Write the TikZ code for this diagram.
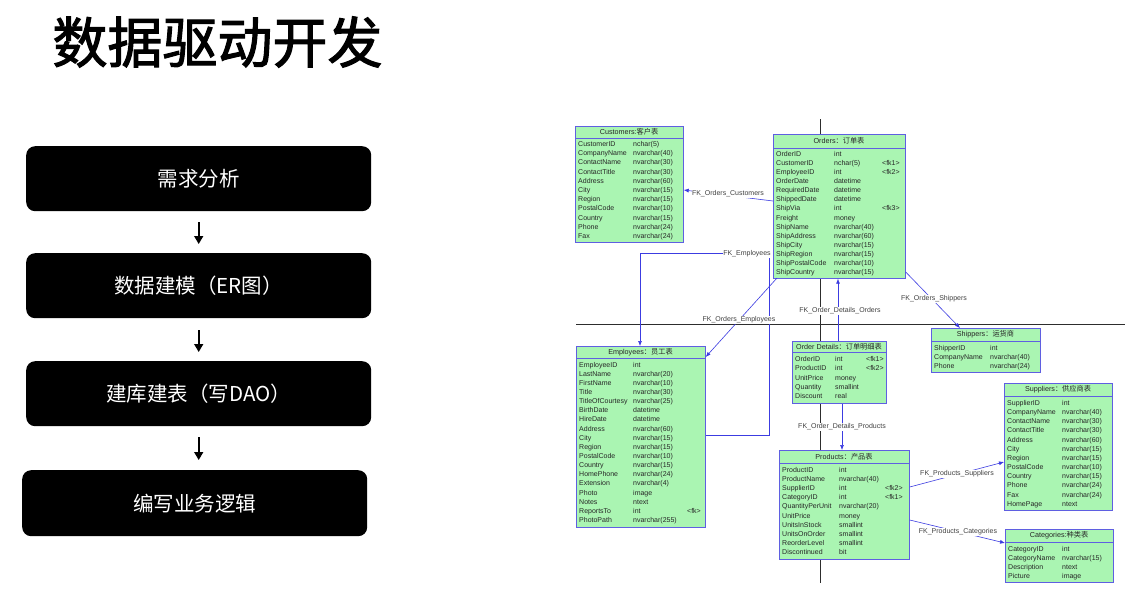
\documentclass[tikz,border=0pt]{standalone}
\usepackage{fontspec}
\setmainfont{Liberation Sans}
\newfontfamily\cjk{Noto Sans CJK SC}
\newfontfamily\cjktitle{Noto Sans CJK SC}[FakeBold=2]
\usetikzlibrary{arrows.meta}
\definecolor{tabfill}{RGB}{170,245,178}
\definecolor{tabline}{RGB}{95,95,225}
\definecolor{fkblue}{RGB}{60,60,225}
\definecolor{pageline}{RGB}{45,45,45}
\tikzset{
  stepbox/.style={fill=black, rounded corners=9pt, minimum width=345pt, minimum height=65pt,
    anchor=north west, inner sep=0pt, text=white, font=\cjk\fontsize{20.5}{24}\selectfont},
  flowarrow/.style={draw=black, line width=1.6pt, -{Triangle[length=8pt,width=9pt]}},
  ertab/.style={draw=tabline, fill=tabfill, line width=0.7pt, anchor=north west, inner sep=0pt},
  hdrtxt/.style={font=\fontsize{7.2}{8}\selectfont, inner sep=0pt, text=black!85},
  rowtxt/.style={font=\fontsize{7}{8}\selectfont, inner sep=0pt, anchor=base west, text=black!85},
  fk/.style={draw=fkblue, line width=0.6pt},
  fkarrow/.style={fk, -{Latex[length=5pt,width=4pt]}},
  fklabel/.style={font=\fontsize{7}{8}\selectfont, fill=white, inner sep=0.5pt, text=black!75},
  page/.style={draw=pageline, line width=0.7pt},
}
% #1 name, #2 left, #3 top, #4 right, #5 bottom, #6 header line y, #7 header text
\newcommand\ertable[7]{%
  \node[ertab, minimum width={#4-#2}, minimum height={#5-#3}] (#1) at (#2,#3) {};
  \draw[tabline, line width=0.7pt] (#1.west |- 0,#6) -- (#1.east |- 0,#6);
  \node[hdrtxt] (#1-hdr) at ({(#2+#4)/2}, {(#3+#6)/2}) {#7};
}
% #1 name, #2 x name, #3 x type, #4 x key, #5 first row y, #6 pitch, #7 rows
\newcommand\errows[7]{%
  \foreach \a/\b/\c [count=\i] in {#7} {
    \pgfmathsetmacro\yy{#5+(\i-1)*#6+2.5}
    \node[rowtxt] (#1-n\i) at (#2,\yy) {\a};
    \node[rowtxt] (#1-t\i) at (#3,\yy) {\b};
    \node[rowtxt] (#1-k\i) at (#4,\yy) {\c};
  }
}
\begin{document}
\begin{tikzpicture}[x=1pt, y=-1pt]
\useasboundingbox (0,0) rectangle (1132,594);
\fill[white] (0,0) rectangle (1132,594);

% title
\node[font=\cjktitle\fontsize{55}{60}\selectfont, inner sep=0pt] (title) at (217.5,42) {数据驱动开发};

% flow
\node[stepbox] (s1) at (26,146) {需求分析};
\node[stepbox] (s2) at (26,253) {数据建模（ER图）};
\node[stepbox] (s3) at (26,361) {建库建表（写DAO）};
\node[stepbox, minimum height=66pt] (s4) at (22,470) {编写业务逻辑};
\draw[flowarrow] ([yshift=-11pt]s1.south) -- ([yshift=9pt]s2.north);
\draw[flowarrow] ([yshift=-12pt]s2.south) -- ([yshift=9pt]s3.north);
\draw[flowarrow] ([yshift=-11pt]s3.south) -- ([yshift=10pt]s3.south |- s4.north);

% page lines
\coordinate (ph1) at (576,324);
\coordinate (ph2) at (1125,324);
\coordinate (pv1) at (820,119);
\coordinate (pv2) at (820,583);
\draw[page] (ph1) -- (ph2);
\draw[page] (pv1) -- (pv2);

% tables
\ertable{cust}{575}{126}{683}{242}{138}{Customers:{\cjk 客户表}}
\errows{cust}{578}{633}{670}{144}{9.2}{CustomerID/nchar(5)/{}, CompanyName/nvarchar(40)/{}, ContactName/nvarchar(30)/{}, ContactTitle/nvarchar(30)/{}, Address/nvarchar(60)/{}, City/nvarchar(15)/{}, Region/nvarchar(15)/{}, PostalCode/nvarchar(10)/{}, Country/nvarchar(15)/{}, Phone/nvarchar(24)/{}, Fax/nvarchar(24)/{}}

\ertable{orders}{773}{134}{905}{278}{148}{Orders{\cjk ：订单表}}
\errows{orders}{776}{834}{882}{153.5}{9.15}{OrderID/int/{}, CustomerID/nchar(5)/<fk1>, EmployeeID/int/<fk2>, OrderDate/datetime/{}, RequiredDate/datetime/{}, ShippedDate/datetime/{}, ShipVia/int/<fk3>, Freight/money/{}, ShipName/nvarchar(40)/{}, ShipAddress/nvarchar(60)/{}, ShipCity/nvarchar(15)/{}, ShipRegion/nvarchar(15)/{}, ShipPostalCode/nvarchar(10)/{}, ShipCountry/nvarchar(15)/{}}

\ertable{emp}{576}{346}{705}{527}{358}{Employees{\cjk ：员工表}}
\errows{emp}{579}{633}{687}{364.5}{9.15}{EmployeeID/int/{}, LastName/nvarchar(20)/{}, FirstName/nvarchar(10)/{}, Title/nvarchar(30)/{}, TitleOfCourtesy/nvarchar(25)/{}, BirthDate/datetime/{}, HireDate/datetime/{}, Address/nvarchar(60)/{}, City/nvarchar(15)/{}, Region/nvarchar(15)/{}, PostalCode/nvarchar(10)/{}, Country/nvarchar(15)/{}, HomePhone/nvarchar(24)/{}, Extension/nvarchar(4)/{}, Photo/image/{}, Notes/ntext/{}, ReportsTo/int/<fk>, PhotoPath/nvarchar(255)/{}}

\ertable{od}{792}{341}{886}{403}{352}{Order Details{\cjk ：订单明细表}}
\errows{od}{795}{835}{866}{359}{9.3}{OrderID/int/<fk1>, ProductID/int/<fk2>, UnitPrice/money/{}, Quantity/smallint/{}, Discount/real/{}}

\ertable{ship}{931}{328}{1040}{372}{341}{Shippers{\cjk ：运货商}}
\errows{ship}{934}{990}{1030}{348}{9.2}{ShipperID/int/{}, CompanyName/nvarchar(40)/{}, Phone/nvarchar(24)/{}}

\ertable{sup}{1004}{383}{1112}{510}{396}{Suppliers{\cjk ：供应商表}}
\errows{sup}{1007}{1062}{1100}{403}{9.15}{SupplierID/int/{}, CompanyName/nvarchar(40)/{}, ContactName/nvarchar(30)/{}, ContactTitle/nvarchar(30)/{}, Address/nvarchar(60)/{}, City/nvarchar(15)/{}, Region/nvarchar(15)/{}, PostalCode/nvarchar(10)/{}, Country/nvarchar(15)/{}, Phone/nvarchar(24)/{}, Fax/nvarchar(24)/{}, HomePage/ntext/{}}

\ertable{prod}{779}{450}{909}{559}{463}{Products{\cjk ：产品表}}
\errows{prod}{782}{839}{885}{469.5}{9.2}{ProductID/int/{}, ProductName/nvarchar(40)/{}, SupplierID/int/<fk2>, CategoryID/int/<fk1>, QuantityPerUnit/nvarchar(20)/{}, UnitPrice/money/{}, UnitsInStock/smallint/{}, UnitsOnOrder/smallint/{}, ReorderLevel/smallint/{}, Discontinued/bit/{}}

\ertable{cat}{1005}{529}{1113}{582}{542}{Categories:{\cjk 种类表}}
\errows{cat}{1008}{1062}{1100}{548.5}{9.2}{CategoryID/int/{}, CategoryName/nvarchar(15)/{}, Description/ntext/{}, Picture/image/{}}

% connectors
\draw[fkarrow] (orders.west |- 0,201) -- (cust.east |- 0,190);
\coordinate (ea) at (769,435);
\coordinate (eb) at (769,253);
\coordinate (ec) at (640,253);
\draw[fkarrow] (emp.east |- ea) -- (ea) -- (eb) -- (ec) -- (emp.north -| ec);
\draw[fkarrow] (777,278) -- (emp.east |- 0,357);
\draw[fkarrow] (od.north -| 838,0) -- (orders.south -| 838,0);
\draw[fkarrow] (orders.east |- 0,272) -- (ship.north -| 960,0);
\draw[fkarrow] (od.south -| 842,0) -- (prod.north -| 842,0);
\draw[fkarrow] (prod.east |- 0,487) -- (sup.west |- 0,462);
\draw[fkarrow] (prod.east |- 0,520) -- (cat.west |- 0,543);

% labels
\node[fklabel] (l1) at (728,194) {FK\_Orders\_Customers};
\node[fklabel] (l2) at (747,254) {FK\_Employees};
\node[fklabel] (l3) at (739,320) {FK\_Orders\_Employees};
\node[fklabel] (l4) at (840,311) {FK\_Order\_Details\_Orders};
\node[fklabel] (l5) at (934,299) {FK\_Orders\_Shippers};
\node[fklabel] (l6) at (842,427) {FK\_Order\_Details\_Products};
\node[fklabel] (l7) at (957,474) {FK\_Products\_Suppliers};
\node[fklabel] (l8) at (958,532) {FK\_Products\_Categories};
\end{tikzpicture}
\end{document}
